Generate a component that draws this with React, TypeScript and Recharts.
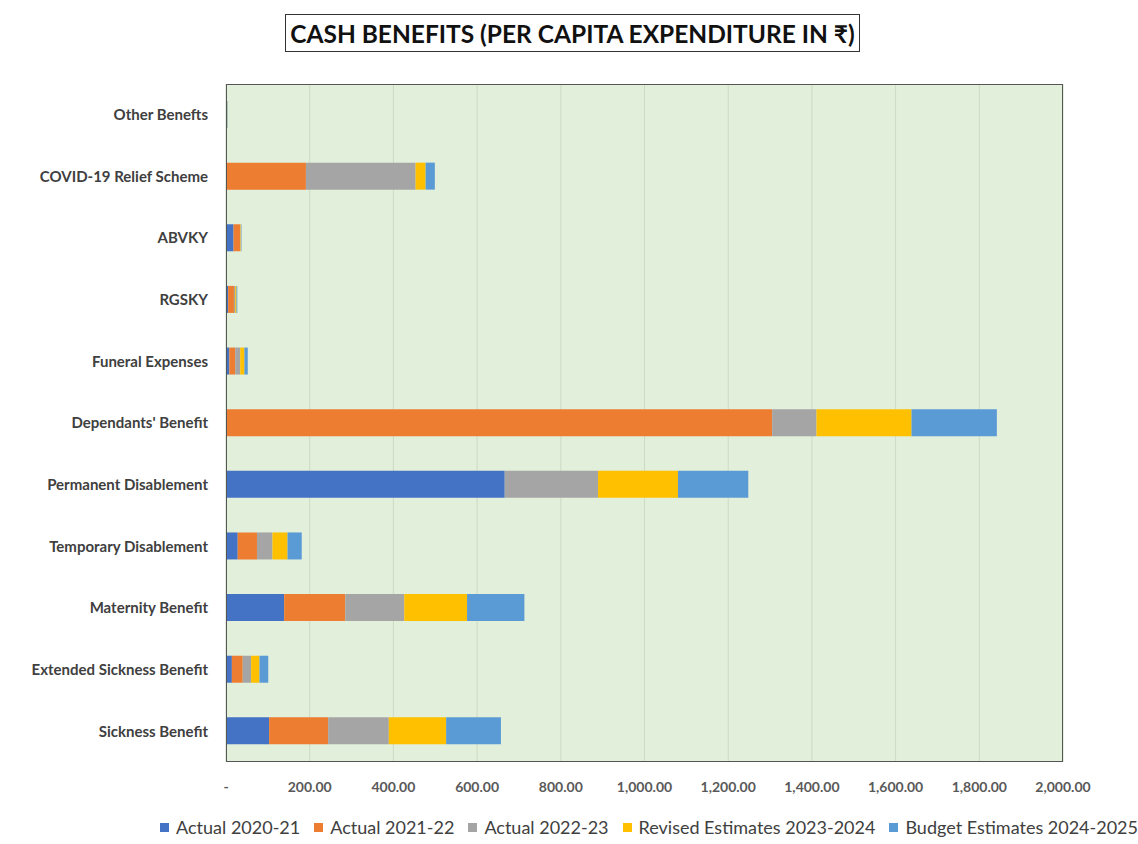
import { Bar, BarChart, CartesianGrid, XAxis, YAxis } from "recharts";

const categories = [
  "Other Benefts",
  "COVID-19 Relief Scheme",
  "ABVKY",
  "RGSKY",
  "Funeral Expenses",
  "Dependants' Benefit",
  "Permanent Disablement",
  "Temporary Disablement",
  "Maternity Benefit",
  "Extended Sickness Benefit",
  "Sickness Benefit",
];

const actual2021 = [0.5, 0, 18, 5, 8, 0, 666, 28, 139, 14, 103];
const actual2122 = [0.5, 191, 16, 14, 14, 1305, 0, 46, 146, 26, 141];
const actual2223 = [1, 262, 1, 3, 12, 106, 223, 37, 141, 20, 145];
const revised2324 = [1, 24, 1, 3, 10, 227, 191, 36, 150, 20, 137];
const budget2425 = [1, 22, 1, 2, 8, 204, 168, 34, 137, 21, 131];

const xTicks = [0, 200, 400, 600, 800, 1000, 1200, 1400, 1600, 1800, 2000];

const series = [
  { key: "a2021", name: "Actual 2020-21", color: "#4472C4" },
  { key: "a2122", name: "Actual 2021-22", color: "#ED7D31" },
  { key: "a2223", name: "Actual 2022-23", color: "#A5A5A5" },
  { key: "re2324", name: "Revised Estimates 2023-2024", color: "#FFC000" },
  { key: "be2425", name: "Budget Estimates 2024-2025", color: "#5B9BD5" },
];

const data = categories.map((name, i) => ({
  name,
  a2021: actual2021[i],
  a2122: actual2122[i],
  a2223: actual2223[i],
  re2324: revised2324[i],
  be2425: budget2425[i],
}));

const FONT = "Lato, 'Open Sans', sans-serif";

function fmt(v: number) {
  if (v === 0) return "-";
  return v.toLocaleString("en-US", { minimumFractionDigits: 2, maximumFractionDigits: 2 });
}

export default function App() {
  return (
    <div style={{ position: "absolute", left: 0, top: 0, width: 1138, height: 844, background: "#fff", fontFamily: FONT }}>
      <div
        style={{
          position: "absolute",
          left: 285,
          top: 14,
          width: 575,
          height: 38,
          border: "1.5px solid #333",
          boxSizing: "border-box",
          display: "flex",
          alignItems: "center",
          justifyContent: "center",
          fontWeight: 700,
          fontSize: 24.5,
          color: "#111",
          whiteSpace: "nowrap",
        }}
      >
        CASH BENEFITS (PER CAPITA EXPENDITURE IN ₹)
      </div>
      <BarChart
        width={1138}
        height={844}
        data={data}
        layout="vertical"
        margin={{ top: 84, right: 75, left: 0, bottom: 52 }}
        barSize={27}
      >
        <CartesianGrid horizontal={false} stroke="#cddbc4" fill="#E2EFDA" fillOpacity={1} />
        <XAxis
          type="number"
          domain={[0, 2000]}
          ticks={xTicks}
          tickFormatter={fmt}
          tickLine={false}
          axisLine={false}
          tick={{ fill: "#595959", fontSize: 14, fontWeight: 700, fontFamily: FONT }}
          tickMargin={14}
          height={30}
        />
        <YAxis
          type="category"
          dataKey="name"
          width={226}
          tickLine={false}
          axisLine={false}
          tick={{ fill: "#404040", fontSize: 15, fontWeight: 700, fontFamily: FONT }}
          tickMargin={12}
          interval={0}
        />
        {series.map((s) => (
          <Bar key={s.key} dataKey={s.key} name={s.name} stackId="a" fill={s.color} isAnimationActive={false} />
        ))}
      </BarChart>
      <div
        style={{
          position: "absolute",
          left: 226,
          top: 84,
          width: 837,
          height: 678,
          border: "1.5px solid #555",
          boxSizing: "border-box",
          pointerEvents: "none",
        }}
      />
      <div
        style={{
          position: "absolute",
          top: 816,
          right: 0,
          display: "flex",
          gap: 14,
          fontSize: 18,
          color: "#404040",
          whiteSpace: "nowrap",
        }}
      >
        {series.map((s) => (
          <span key={s.key} style={{ display: "flex", alignItems: "center", gap: 7 }}>
            <span style={{ width: 9, height: 9, background: s.color, display: "inline-block" }} />
            {s.name}
          </span>
        ))}
      </div>
    </div>
  );
}
